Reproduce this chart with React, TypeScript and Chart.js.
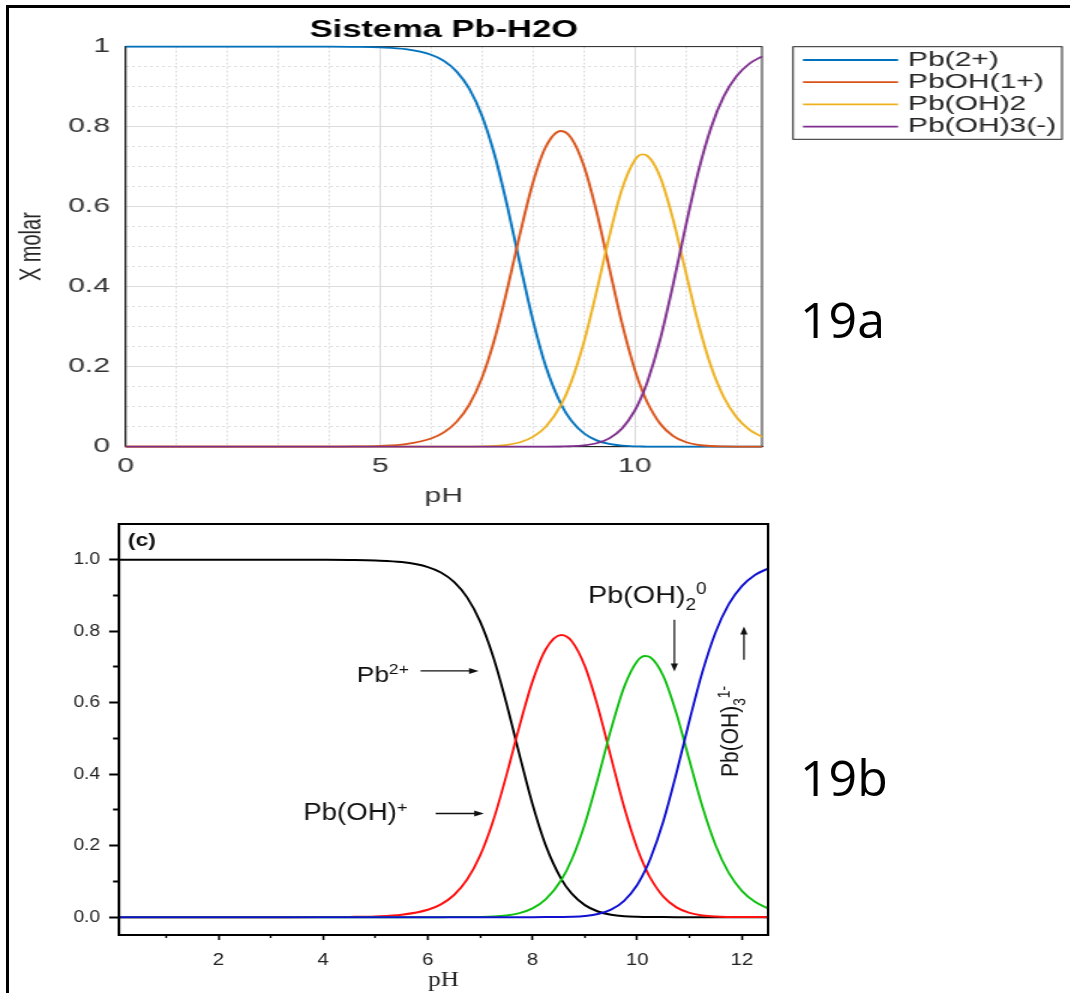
import React, { useEffect, useRef } from "react";
import { Chart, registerables } from "chart.js";
Chart.register(...registerables);

// ---------- data ----------
const PH = [0, 1, 2, 3, 4, 4.5, 5, 5.5, 6, 6.25, 6.5, 6.75, 7, 7.25, 7.5, 7.75, 8, 8.25, 8.55, 8.75, 9, 9.25, 9.5, 9.75, 10, 10.15, 10.25, 10.5, 10.75, 11, 11.25, 11.5, 11.75, 12, 12.25, 12.5];
const PB2 = [1, 1, 1, 1, 0.9998, 0.9993, 0.9979, 0.9934, 0.9795, 0.9642, 0.938, 0.8947, 0.8267, 0.7278, 0.5993, 0.4547, 0.3158, 0.2016, 0.1065, 0.0657, 0.0336, 0.0158, 0.0068, 0.0026, 0.0009, 0.0005, 0.0003, 0.0001, 0, 0, 0, 0, 0, 0, 0, 0];
const PBOH = [0, 0, 0, 0, 0.0002, 0.0007, 0.0021, 0.0066, 0.0205, 0.0358, 0.062, 0.1051, 0.1727, 0.2704, 0.396, 0.5342, 0.6597, 0.7489, 0.7891, 0.7719, 0.7022, 0.5874, 0.4471, 0.3081, 0.1928, 0.1392, 0.11, 0.0574, 0.0273, 0.0118, 0.0047, 0.0017, 0.0006, 0.0002, 0.0001, 0];
const PBOH2 = [0, 0, 0, 0, 0, 0, 0, 0, 0, 0, 0.0001, 0.0002, 0.0006, 0.0018, 0.0047, 0.0112, 0.0245, 0.0495, 0.104, 0.1613, 0.2609, 0.3881, 0.5253, 0.6437, 0.7162, 0.7305, 0.7269, 0.6742, 0.5695, 0.4375, 0.3073, 0.2004, 0.1237, 0.0736, 0.0428, 0.0245];
const PBOH3 = [0, 0, 0, 0, 0, 0, 0, 0, 0, 0, 0, 0, 0, 0, 0, 0, 0, 0.0001, 0.0005, 0.0011, 0.0033, 0.0087, 0.0209, 0.0456, 0.0902, 0.1299, 0.1627, 0.2684, 0.4032, 0.5507, 0.688, 0.7979, 0.8757, 0.9262, 0.9572, 0.9755];

const SERIES = [PB2, PBOH, PBOH2, PBOH3];
const LABELS_A = ["Pb(2+)", "PbOH(1+)", "Pb(OH)2", "Pb(OH)3(-)"];
const LABELS_B = ["Pb2+", "Pb(OH)+", "Pb(OH)2 0", "Pb(OH)3 1-"];
const COLORS_A = ["#0072BD", "#D95319", "#EDB120", "#7E2F8E"];
const COLORS_B = ["#000000", "#FF1010", "#10C010", "#1010D0"];

const A_X_TICKS = [0, 5, 10];
const A_X_MINOR = [1, 2, 3, 4, 6, 7, 8, 9, 11, 12];
const A_Y_TICKS = [0, 0.2, 0.4, 0.6, 0.8, 1];
const A_Y_MINOR = [0.05, 0.1, 0.15, 0.25, 0.3, 0.35, 0.45, 0.5, 0.55, 0.65, 0.7, 0.75, 0.85, 0.9, 0.95];
const B_X_TICKS = [2, 4, 6, 8, 10, 12];
const B_X_MINOR = [1, 3, 5, 7, 9, 11];
const B_Y_TICKS = [0, 0.2, 0.4, 0.6, 0.8, 1.0];
const B_Y_MINOR = [0.1, 0.3, 0.5, 0.7, 0.9];

const TITLE_A = "Sistema Pb-H2O";

// ---------- layout ----------
const SANS = "'Liberation Sans', Arial, sans-serif";
const SERIF = "'Liberation Serif', 'Times New Roman', serif";
const A_STRETCH = 1.5;
const B_STRETCH = 1.2;
const A_W = 714, A_H = 520;
const B_W = 892, B_H = 488, B_TOP = 505;

const pts = (ys: number[]) => PH.map((x, i) => ({ x, y: ys[i] }));
const setTicks = (vals: number[]) => (s: any) => { s.ticks = vals.map((v) => ({ value: v })); };

function drawRich(ctx: any, x: number, y: number, parts: any[], size: number) {
  let cx = x;
  for (const p of parts) {
    const small = p.sub || p.sup;
    const s = small ? size * 0.66 : size;
    ctx.font = `${s}px ${SANS}`;
    const dy = p.sup ? -size * 0.36 : p.sub ? size * 0.3 : 0;
    ctx.fillText(p.t, cx, y + dy);
    cx += ctx.measureText(p.t).width;
  }
}

function drawArrow(ctx: any, x1: number, y1: number, x2: number, y2: number) {
  const ang = Math.atan2(y2 - y1, x2 - x1);
  const hl = 8, hw = 3;
  ctx.beginPath();
  ctx.moveTo(x1, y1);
  ctx.lineTo(x2 - Math.cos(ang) * hl * 0.8, y2 - Math.sin(ang) * hl * 0.8);
  ctx.stroke();
  ctx.beginPath();
  ctx.moveTo(x2, y2);
  ctx.lineTo(x2 - Math.cos(ang) * hl - Math.sin(ang) * hw, y2 - Math.sin(ang) * hl + Math.cos(ang) * hw);
  ctx.lineTo(x2 - Math.cos(ang) * hl + Math.sin(ang) * hw, y2 - Math.sin(ang) * hl - Math.cos(ang) * hw);
  ctx.closePath();
  ctx.fill();
}

const frameA = {
  id: "frameA",
  beforeDatasetsDraw(chart: any) {
    const { ctx, chartArea: a } = chart;
    ctx.save();
    ctx.strokeStyle = "#262626";
    ctx.lineWidth = 1;
    ctx.strokeRect(a.left, a.top, a.right - a.left, a.bottom - a.top);
    ctx.restore();
  },
};

const legendA = {
  id: "legendA",
  afterDraw(chart: any) {
    const ctx = chart.ctx;
    const bx = 528.7, by = 46.7, bw = 179.3, bh = 92.6;
    ctx.save();
    ctx.fillStyle = "#ffffff";
    ctx.fillRect(bx, by, bw, bh);
    ctx.strokeStyle = "#262626";
    ctx.lineWidth = 1;
    ctx.strokeRect(bx, by, bw, bh);
    ctx.font = `20px ${SANS}`;
    ctx.textBaseline = "middle";
    chart.data.datasets.forEach((ds: any, i: number) => {
      const y = by + 13.3 + i * 22.2;
      ctx.strokeStyle = ds.borderColor;
      ctx.lineWidth = 1.8;
      ctx.beginPath();
      ctx.moveTo(535.3, y);
      ctx.lineTo(598.7, y);
      ctx.stroke();
      ctx.fillStyle = "#262626";
      ctx.fillText(ds.label, 605.3, y);
    });
    ctx.restore();
  },
};

const frameB = {
  id: "frameB",
  afterDatasetsDraw(chart: any) {
    const { ctx, chartArea: a } = chart;
    ctx.save();
    ctx.strokeStyle = "#000";
    ctx.lineWidth = 2;
    ctx.strokeRect(a.left, a.top, a.right - a.left, a.bottom - a.top);
    ctx.restore();
  },
};

const annotB = {
  id: "annotB",
  afterDraw(chart: any) {
    const { ctx } = chart;
    const X = (v: number) => chart.scales.x.getPixelForValue(v);
    const Y = (v: number) => chart.scales.y.getPixelForValue(v);
    ctx.save();
    ctx.fillStyle = "#111";
    ctx.strokeStyle = "#111";
    ctx.lineWidth = 1.3;
    ctx.textAlign = "left";
    // (c)
    ctx.font = `bold 19px ${SANS}`;
    ctx.textBaseline = "middle";
    ctx.fillText("(c)", X(0.27), Y(1.054));
    ctx.textBaseline = "alphabetic";
    // Pb2+
    drawRich(ctx, X(4.64), Y(0.659), [{ t: "Pb" }, { t: "2+", sup: true }], 22);
    drawArrow(ctx, X(5.86), Y(0.689), X(6.97), Y(0.689));
    // Pb(OH)+
    drawRich(ctx, X(3.62), Y(0.271), [{ t: "Pb(OH)" }, { t: "+", sup: true }], 23);
    drawArrow(ctx, X(6.15), Y(0.29), X(7.07), Y(0.29));
    // Pb(OH)2 0
    drawRich(ctx, X(9.06), Y(0.88), [{ t: "Pb(OH)" }, { t: "2", sub: true }, { t: "0", sup: true }], 24);
    drawArrow(ctx, X(10.71), Y(0.832), X(10.71), Y(0.687));
    // Pb(OH)3 1- rotated
    ctx.save();
    ctx.translate(X(11.93), Y(0.392));
    ctx.rotate(-Math.PI / 2);
    drawRich(ctx, 0, 0, [{ t: "Pb(OH)" }, { t: "3", sub: true }, { t: "1-", sup: true }], 21);
    ctx.restore();
    drawArrow(ctx, X(12.04), Y(0.72), X(12.04), Y(0.813));
    ctx.restore();
  },
};

function configA(): any {
  return {
    type: "line",
    data: {
      datasets: SERIES.map((s, i) => ({
        label: LABELS_A[i],
        data: pts(s),
        borderColor: COLORS_A[i],
        backgroundColor: COLORS_A[i],
        borderWidth: 1.8,
        pointRadius: 0,
        cubicInterpolationMode: "monotone",
        fill: false,
        clip: 3,
        order: -i,
      })),
    },
    options: {
      responsive: false,
      animation: false,
      devicePixelRatio: 1,
      layout: { padding: { left: 0, right: A_W - 508, top: 0, bottom: 0 } },
      plugins: {
        legend: { display: false },
        tooltip: { enabled: false },
        title: {
          display: true,
          text: TITLE_A,
          fullSize: false,
          color: "#000",
          font: { family: SANS, size: 23, weight: "bold" },
          padding: { top: 17, bottom: 2 },
        },
      },
      scales: {
        x: {
          type: "linear", min: 0, max: 12.5, position: "bottom", weight: 1,
          afterBuildTicks: setTicks(A_X_TICKS),
          afterFit: (s: any) => { s.height = A_H - 446.7; },
          grid: { color: "#dcdcdc", lineWidth: 1, drawTicks: false },
          border: { display: true, color: "#262626", width: 1 },
          ticks: { color: "#333", font: { family: SANS, size: 20 }, padding: 8, maxRotation: 0, autoSkip: false, callback: (v: any) => String(v) },
          title: { display: true, text: "pH", color: "#333", font: { family: SANS, size: 20 }, padding: { top: 0, bottom: 11.3 } },
        },
        xMinor: {
          type: "linear", min: 0, max: 12.5, position: "bottom", weight: 0,
          afterBuildTicks: setTicks(A_X_MINOR),
          afterFit: (s: any) => { s.height = 0; },
          grid: { color: "#dedede", lineWidth: 1, drawTicks: false },
          border: { display: false, dash: [2, 2] },
          ticks: { display: false },
        },
        y: {
          type: "linear", min: 0, max: 1, position: "left", weight: 1,
          afterBuildTicks: setTicks(A_Y_TICKS),
          afterFit: (s: any) => { s.width = 83.8; },
          grid: { color: "#dcdcdc", lineWidth: 1, drawTicks: false },
          border: { display: true, color: "#262626", width: 1 },
          ticks: { color: "#333", font: { family: SANS, size: 20 }, padding: 10.5, callback: (v: any) => String(v) },
          title: { display: true, text: "X molar", color: "#262626", font: { family: SANS, size: 20 }, padding: { top: 9, bottom: 0 } },
        },
        yMinor: {
          type: "linear", min: 0, max: 1, position: "left", weight: 0,
          afterBuildTicks: setTicks(A_Y_MINOR),
          afterFit: (s: any) => { s.width = 0; },
          grid: { color: "#dedede", lineWidth: 1, drawTicks: false },
          border: { display: false, dash: [2, 2] },
          ticks: { display: false },
        },
      },
    },
    plugins: [frameA, legendA],
  };
}

function configB(): any {
  return {
    type: "line",
    data: {
      datasets: SERIES.map((s, i) => ({
        label: LABELS_B[i],
        data: pts(s),
        borderColor: COLORS_B[i],
        backgroundColor: COLORS_B[i],
        borderWidth: 2,
        pointRadius: 0,
        cubicInterpolationMode: "monotone",
        fill: false,
        order: -i,
      })),
    },
    options: {
      responsive: false,
      animation: false,
      devicePixelRatio: 1,
      layout: { padding: { left: 0, right: B_W - 640, top: 19, bottom: 0 } },
      plugins: { legend: { display: false }, tooltip: { enabled: false }, title: { display: false } },
      scales: {
        x: {
          type: "linear", min: 0.1, max: 12.5, position: "bottom", weight: 1,
          afterBuildTicks: setTicks(B_X_TICKS),
          afterFit: (s: any) => { s.height = 58; },
          grid: { display: true, drawOnChartArea: false, drawTicks: true, tickLength: 5, tickWidth: 1.7, tickColor: "#000" },
          border: { display: true, color: "#000", width: 2 },
          ticks: { color: "#222", font: { family: SANS, size: 17 }, padding: 10.5, maxRotation: 0, autoSkip: false, callback: (v: any) => String(v) },
          title: { display: true, text: "pH", color: "#222", font: { family: SERIF, size: 21 }, padding: { top: 0, bottom: 0 } },
        },
        xMinor: {
          type: "linear", min: 0.1, max: 12.5, position: "bottom", weight: 0,
          afterBuildTicks: setTicks(B_X_MINOR),
          afterFit: (s: any) => { s.height = 0; },
          grid: { display: true, drawOnChartArea: false, drawTicks: true, tickLength: 3, tickWidth: 1.5, tickColor: "#000" },
          border: { display: false },
          ticks: { display: false },
        },
        y: {
          type: "linear", min: -0.05, max: 1.1, position: "left", weight: 1,
          afterBuildTicks: setTicks(B_Y_TICKS),
          afterFit: (s: any) => { s.width = 99.2; },
          grid: { display: true, drawOnChartArea: false, drawTicks: true, tickLength: 8.3, tickWidth: 2, tickColor: "#000" },
          border: { display: true, color: "#000", width: 2 },
          ticks: { color: "#222", font: { family: SANS, size: 16 }, padding: 7.5, callback: (v: any) => Number(v).toFixed(1) },
        },
        yMinor: {
          type: "linear", min: -0.05, max: 1.1, position: "left", weight: 0,
          afterBuildTicks: setTicks(B_Y_MINOR),
          afterFit: (s: any) => { s.width = 0; },
          grid: { display: true, drawOnChartArea: false, drawTicks: true, tickLength: 5, tickWidth: 2, tickColor: "#000" },
          border: { display: false },
          ticks: { display: false },
        },
      },
    },
    plugins: [frameB, annotB],
  };
}

export default function App() {
  const refA = useRef<HTMLCanvasElement>(null);
  const refB = useRef<HTMLCanvasElement>(null);
  useEffect(() => {
    const a = new Chart(refA.current as any, configA());
    const b = new Chart(refB.current as any, configB());
    return () => { a.destroy(); b.destroy(); };
  }, []);
  const big = { position: "absolute" as const, fontFamily: "'Open Sans', sans-serif", fontSize: 50, lineHeight: "50px", color: "#000", whiteSpace: "nowrap" as const };
  return (
    <div style={{ position: "absolute", left: 0, top: 0, width: 1070, height: 993, overflow: "hidden", background: "#fff" }}>
      <div style={{ position: "absolute", left: 6, top: 5, width: 1200, height: 1200, borderLeft: "3px solid #000", borderTop: "3px solid #000" }} />
      <canvas ref={refA} width={A_W} height={A_H}
        style={{ position: "absolute", left: 0, top: 0, width: A_W, height: A_H, transform: `scaleX(${A_STRETCH})`, transformOrigin: "0 0" }} />
      <canvas ref={refB} width={B_W} height={B_H}
        style={{ position: "absolute", left: 0, top: B_TOP, width: B_W, height: B_H, transform: `scaleX(${B_STRETCH})`, transformOrigin: "0 0" }} />
      <div style={{ ...big, left: 800, top: 294 }}>19a</div>
      <div style={{ ...big, left: 800, top: 752 }}>19b</div>
    </div>
  );
}
